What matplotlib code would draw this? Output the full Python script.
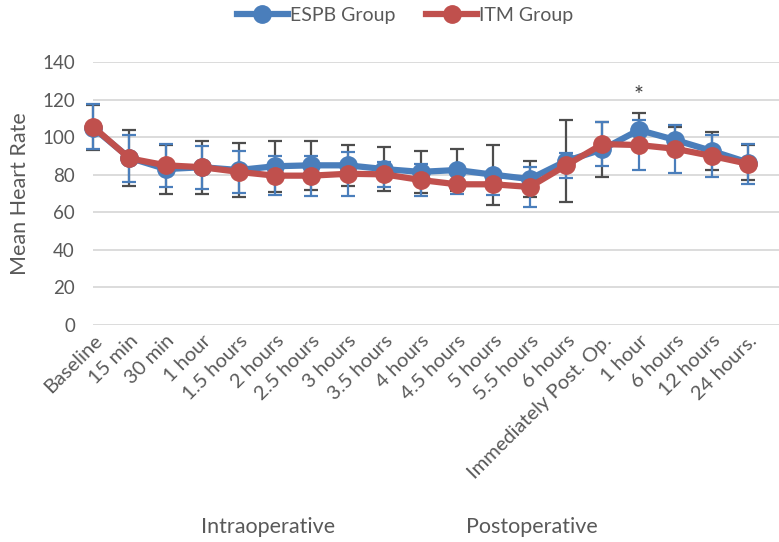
import matplotlib.pyplot as plt
import numpy as np

plt.rcParams['font.family'] = ['Lato', 'DejaVu Sans']

labels = ['Baseline', '15 min', '30 min', '1 hour', '1.5 hours', '2 hours',
          '2.5 hours', '3 hours', '3.5 hours', '4 hours', '4.5 hours',
          '5 hours', '5.5 hours', '6 hours', 'Immediately Post. Op.',
          '1 hour', '6 hours', '12 hours', '24 hours.']

espb_mean = [105.0, 89.0, 83.0, 84.0, 82.5, 84.5, 85.0, 85.0, 83.0, 81.5,
             82.5, 80.0, 77.7, 87.3, 93.5, 103.8, 98.5, 92.7, 86.5]
espb_sd = [12.0, 15.0, 13.0, 14.0, 14.5, 13.5, 13.0, 11.0, 11.5, 11.0,
           11.2, 16.0, 9.6, 21.8, 14.8, 8.9, 7.0, 10.2, 9.3]

itm_mean = [105.6, 88.7, 85.0, 84.0, 81.5, 79.5, 79.5, 80.5, 80.2, 77.2,
            74.9, 74.9, 73.5, 85.0, 96.3, 95.8, 93.8, 90.0, 85.8]
itm_sd = [11.9, 12.6, 11.4, 11.5, 11.0, 10.3, 10.6, 11.7, 6.5, 8.6,
          5.2, 5.6, 10.5, 6.6, 11.8, 13.3, 12.9, 11.4, 10.6]

blue = '#4A7EBB'
red = '#C0504D'
grey_txt = '#595959'

fig = plt.figure(figsize=(7.79, 5.42), dpi=100)
ax = fig.add_axes([93 / 779, 1 - 325 / 542, 1 - 93 / 779, (325 - 62) / 542])

x = np.arange(len(labels))

# error bars: dark grey for ESPB, blue for ITM
ax.errorbar(x, espb_mean, yerr=espb_sd, fmt='none', ecolor='#4D4D4D',
            elinewidth=1.6, capsize=5, capthick=1.6, zorder=2, clip_on=False)
ax.errorbar(x, itm_mean, yerr=itm_sd, fmt='none', ecolor=blue,
            elinewidth=1.6, capsize=5, capthick=1.6, zorder=3, clip_on=False)

ax.plot(x, espb_mean, color=blue, lw=4.5, marker='o', ms=12.5,
        label='ESPB Group', zorder=4, clip_on=False)
ax.plot(x, itm_mean, color=red, lw=4.5, marker='o', ms=12.5,
        label='ITM Group', zorder=5, clip_on=False)

ax.text(15, 122, '*', ha='center', va='center', fontsize=17, color='#404040')

ax.set_xlim(0, 18.85)
ax.set_ylim(0, 140)
ax.set_yticks(range(0, 141, 20))
ax.set_xticks(x)
ax.set_xticklabels(labels, rotation=45, ha='right', rotation_mode='anchor',
                   fontsize=14.5, color=grey_txt)
ax.tick_params(axis='y', length=0, pad=13, labelsize=13.5, labelcolor=grey_txt)
ax.tick_params(axis='x', length=0, pad=5)
ax.grid(axis='y', color='#D9D9D9', lw=1.3)
ax.set_axisbelow(True)
for s in ax.spines.values():
    s.set_visible(False)

ax.set_ylabel('Mean Heart Rate', fontsize=15.5, color=grey_txt, labelpad=9)

fig.text(268 / 779, 1 - 527 / 542, 'Intraoperative', ha='center', va='center',
         fontsize=15.5, color=grey_txt)
fig.text(532 / 779, 1 - 527 / 542, 'Postoperative', ha='center', va='center',
         fontsize=15.5, color=grey_txt)

fig.legend(loc='center', bbox_to_anchor=(0.52, 1 - 15 / 542), ncol=2,
           frameon=False, fontsize=14, handlelength=2.6, columnspacing=1.6,
           handletextpad=0.1, labelcolor=grey_txt)

fig.savefig('out.png', dpi=100)
